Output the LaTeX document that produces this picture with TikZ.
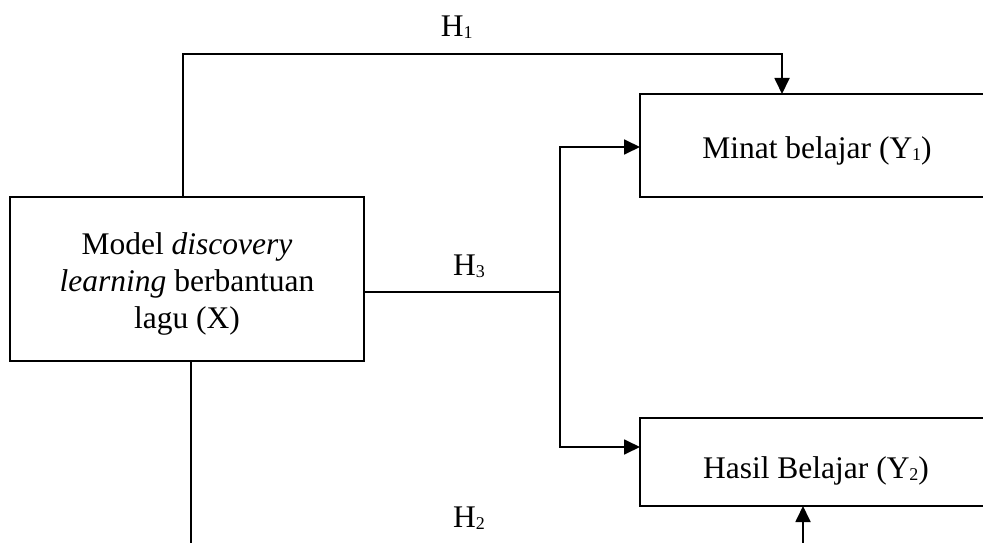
\documentclass[tikz,border=0pt]{standalone}
\usepackage{fontspec}
\setmainfont{Liberation Serif}
\usetikzlibrary{arrows.meta,calc}
% small lowered index, as in H1 or Y2
\newcommand\lowidx[1]{\raisebox{-2pt}{\fontsize{18}{18}\selectfont #1}}
\begin{document}
\begin{tikzpicture}[x=1pt,y=-1pt,
  box/.style={draw,line width=1.8pt,inner sep=0pt,outer sep=0pt,anchor=north west},
  link/.style={line width=1.8pt},
  arr/.style={link,-{Triangle[length=16pt,width=15pt]}},
  lbl/.style={font=\fontsize{31.5}{37}\selectfont,inner sep=0pt,anchor=base}]
\useasboundingbox (0,0) rectangle (983,543);
\clip (0,0) rectangle (983,543);

% boxes
\node[box,minimum width=354pt,minimum height=164pt] (X)  at (10,197) {};
\node[box,minimum width=354pt,minimum height=103pt] (Y1) at (640,94) {};
\node[box,minimum width=354pt,minimum height=88pt]  (Y2) at (640,418) {};

% box texts
\node[lbl,anchor=center,align=center] (tX) at (187,283.7)
  {Model \textit{discovery}\\ \textit{learning} berbantuan\\ lagu (X)};
\node[lbl] (tY1) at (817,158) {Minat belajar (Y\lowidx{1})};
\node[lbl] (tY2) at (816,478) {Hasil Belajar (Y\lowidx{2})};

% path labels
\node[lbl] (h1) at (456.7,36.7) {H\lowidx{1}};
\node[lbl] (h3) at (469,275.7) {H\lowidx{3}};
\node[lbl] (h2) at (469,527) {H\lowidx{2}};

% connector points
\coordinate (xTop) at (183,197);
\coordinate (xBot) at (190.7,361);
\coordinate (topRun) at (183,54);
\coordinate (split) at (560,292.3);
\coordinate (bottomEnd) at (190.7,560);
\coordinate (y2In) at (803,560);

% H1: X to Y1 over the top
\draw[arr] (xTop) -- (topRun) -| ($(Y1.north west)+(142,0)$);
% H3: X to the split, then to Y1 and Y2
\draw[link] (X.east |- split) -- (split);
\draw[arr] (split) |- (Y1.west |- 0,147);
\draw[arr] (split) |- (Y2.west |- 0,447);
% H2: X down and round to Y2 from below
\draw[link] (xBot) -- (bottomEnd);
\draw[arr] (y2In) -- (Y2.south -| y2In);
\end{tikzpicture}
\end{document}
